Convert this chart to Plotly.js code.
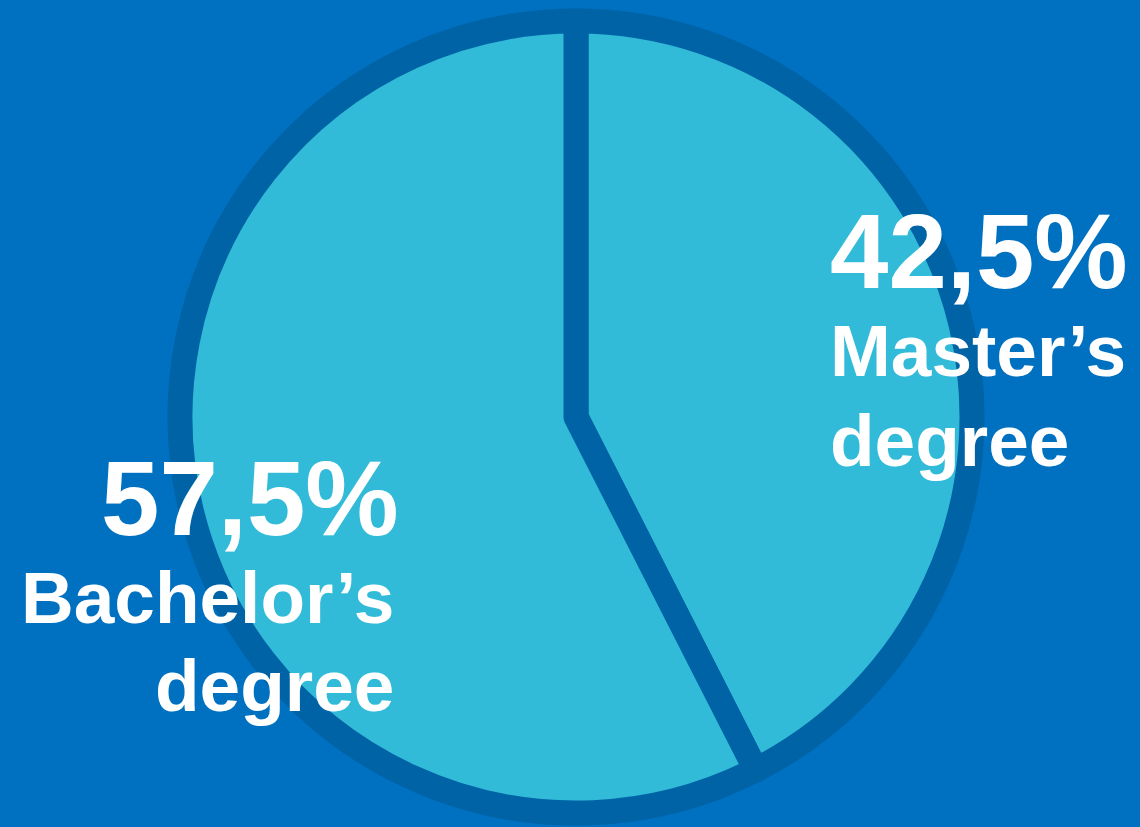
<!DOCTYPE html>
<html>
<head>
<meta charset="utf-8">
<script src="https://cdn.plot.ly/plotly-3.0.1.min.js"></script>
<style>html,body{margin:0;padding:0;background:#0070C0;}#chart{width:1140px;height:827px;}</style>
</head>
<body>
<div id="chart"></div>
<script>
const labels = ["Master\u2019s degree", "Bachelor\u2019s degree"];
const values = [42.5, 57.5];
const pctText = ["42,5%", "57,5%"];
const nameLine1 = ["Master\u2019s", "Bachelor\u2019s"];
const nameLine2 = ["degree", "degree"];

const W = 1140, H = 827;
const cx = 576, cy = 417, R = 396;

const trace = {
  type: 'pie',
  labels: labels,
  values: values,
  sort: false,
  direction: 'clockwise',
  rotation: 0,
  textinfo: 'none',
  hoverinfo: 'label+percent',
  showlegend: false,
  marker: {colors: ['#32BBD8', '#32BBD8'], line: {color: '#0063A6', width: 25}},
  domain: {x: [(cx - R) / W, (cx + R) / W], y: [1 - (cy + R) / H, 1 - (cy - R) / H]}
};

const fontFam = 'Liberation Sans, Arial, sans-serif';
const big = 105, small = 73;
function ann(text, xpx, ypx, anchor, size) {
  return {text: '<b>' + text + '</b>', x: xpx / W, y: 1 - ypx / H, xanchor: anchor, yanchor: 'middle',
    xref: 'paper', yref: 'paper', showarrow: false,
    font: {family: fontFam, size: size, color: '#FFFFFF'}};
}
const annotations = [
  ann(pctText[0], 828, 251, 'left', big),
  ann(nameLine1[0], 828, 350, 'left', small),
  ann(nameLine2[0], 828, 440, 'left', small),
  ann(pctText[1], 401, 498, 'right', big),
  ann(nameLine1[1], 396, 597, 'right', small),
  ann(nameLine2[1], 396, 685, 'right', small)
];

const layout = {
  width: W, height: H,
  margin: {l: 0, r: 0, t: 0, b: 0},
  paper_bgcolor: '#0070C0',
  plot_bgcolor: '#0070C0',
  annotations: annotations
};

Plotly.newPlot('chart', [trace], layout, {displayModeBar: false, staticPlot: true});
</script>
</body>
</html>
